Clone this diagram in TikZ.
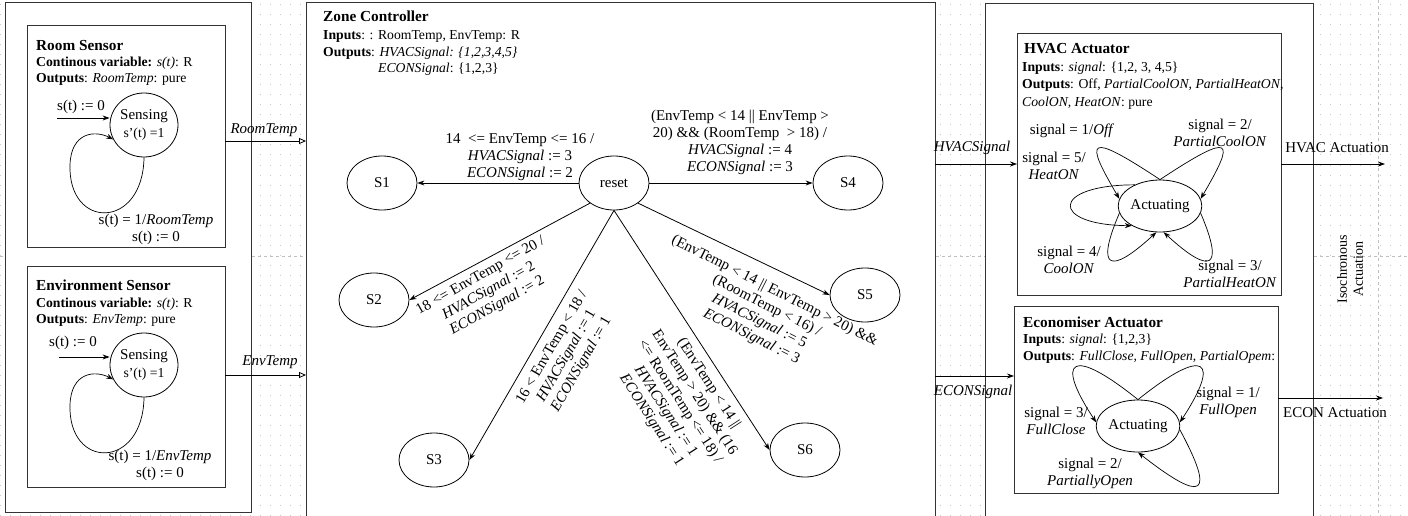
\documentclass[tikz,border=0pt]{standalone}
\usepackage{fontspec}
\setmainfont{Liberation Serif}
\usetikzlibrary{shapes.geometric,arrows.meta}
\newcommand{\fsA}{\fontsize{13.7}{16.5}\selectfont}
\newcommand{\fsB}{\fontsize{15}{17}\selectfont}
\newcommand{\fsT}{\fontsize{15.3}{18}\selectfont\bfseries}
\begin{document}
\begin{tikzpicture}[x=1pt,y=-1pt,
 box/.style={draw=black!80, line width=1pt, fill=white, anchor=north west, inner sep=0, outer sep=0},
 txt/.style={anchor=base west, inner sep=0, font=\fsA},
 ttl/.style={anchor=base west, inner sep=0, font=\fsT},
 st/.style={draw, ellipse, line width=0.8pt, minimum width=70pt, minimum height=54pt, inner sep=0, font=\fsB},
 sens/.style={draw, ellipse, line width=0.8pt, minimum width=68pt, minimum height=64pt, inner sep=0, align=center, font=\fsB},
 act/.style={draw, ellipse, line width=0.8pt, minimum width=66pt, minimum height=52pt, inner sep=0, font=\fsB},
 lbl/.style={inner sep=0, align=center, font=\fsB},
 arr/.style={line width=0.8pt, -{Stealth[length=7pt,width=5pt]}},
 oarr/.style={line width=0.8pt, -{Triangle[open,length=7pt,width=6pt]}},
 gridc/.style={draw=black!22, line width=1pt, dash pattern=on 1pt off 9pt},
 major/.style={draw=black!25, line width=1pt, dash pattern=on 3pt off 3pt}
]
\useasboundingbox (0,0) rectangle (1408,516);
\clip (0,0) rectangle (1408,516);
% background grid
\foreach \yy in {5,15,...,515} \draw[gridc] (0,\yy) -- (1408,\yy);
\draw[major] (0,256) -- (1408,256);
\draw[major] (1378,0) -- (1378,516);

% boxes
\node[box, minimum width=246pt, minimum height=509pt] (lbox) at (5,3) {};
\node[box, minimum width=198pt, minimum height=221pt] (rsbox) at (27,26) {};
\node[box, minimum width=198pt, minimum height=221pt] (esbox) at (27,266) {};
\node[box, minimum width=629pt, minimum height=530pt] (zc) at (306,3) {};
\node[box, minimum width=328pt, minimum height=530pt] (rbox) at (985,4) {};
\node[box, minimum width=264pt, minimum height=261pt] (hvac) at (1017,34) {};
\node[box, minimum width=264pt, minimum height=187pt] (econ) at (1014,306) {};

% ---------- Room Sensor ----------
\node[ttl] (rst) at (36,51) {Room Sensor};
\node[txt] (rsv) at (36,67) {\textbf{Continous variable:} \textit{s(t)}: R};
\node[txt] (rso) at (36,83) {\textbf{Outputs}: \textit{RoomTemp}: pure};
\node[sens] (rss) at (144,125) {Sensing\\[1pt]{\fsA s'(t) =1}};
\coordinate (rsi) at (57,118);
\draw[arr] (rsi) -- (rsi -| rss.west);
\node[lbl] (rsil) at (81,107) {s(t) := 0};
\draw[arr, line width=0.7pt] (rss.south) .. controls (143,230) and (68,230) .. (70,165) .. controls (71,132) and (95,130) .. (rss.205);
\node[lbl] (rsll) at (156,229) {s(t) = 1/\textit{RoomTemp}\\ s(t) := 0};

% ---------- Environment Sensor ----------
\node[ttl] (est) at (36,290) {Environment Sensor};
\node[txt] (esv) at (36,307) {\textbf{Continous variable:} \textit{s(t)}: R};
\node[txt] (eso) at (36,323) {\textbf{Outputs}: \textit{EnvTemp}: pure};
\node[sens] (ess) at (144,365) {Sensing\\[1pt]{\fsA s'(t) =1}};
\coordinate (esi) at (59,357);
\draw[arr] (esi) -- (esi -| ess.west);
\node[lbl] (esil) at (73,343) {s(t) := 0};
\draw[arr, line width=0.7pt] (ess.south) .. controls (143,470) and (68,470) .. (70,405) .. controls (71,372) and (95,370) .. (ess.205);
\node[lbl] (esll) at (160,465) {s(t) = 1/\textit{EnvTemp}\\ s(t) := 0};

% sensor outputs
\coordinate (rto) at (225,141);
\draw[oarr] (rto) -- (rto -| zc.west);
\node[lbl] (rtl) at (264,130) {\textit{RoomTemp}};
\coordinate (eto) at (225,375);
\draw[oarr] (eto) -- (eto -| zc.west);
\node[lbl] (etl) at (270,362) {\textit{EnvTemp}};

% ---------- Zone Controller ----------
\node[ttl] (zct) at (323,22) {Zone Controller};
\node[txt] (zci) at (323,39.5) {\textbf{Inputs}: : RoomTemp, EnvTemp: R};
\node[txt] (zco) at (323,56.5) {\textbf{Outputs}: \textit{HVACSignal: \{1,2,3,4,5\}}};
\node[txt] (zce) at (378,73) {\textit{ECONSignal}: \{1,2,3\}};

\node[st] (reset) at (614,183) {reset};
\node[st] (s1) at (382,183) {S1};
\node[st] (s4) at (848,183) {S4};
\node[st] (s2) at (374,300) {S2};
\node[st] (s3) at (434,460) {S3};
\node[st] (s5) at (865,295) {S5};
\node[st] (s6) at (805,450) {S6};

\draw[arr] (reset) -- (s1);
\draw[arr] (reset) -- (s4);
\draw[arr] (reset.220) -- (s2.east);
\draw[arr] (reset.south) -- (s3.east);
\draw[arr] (reset.320) -- (s5.west);
\draw[arr] (reset.south) -- (s6.west);

\node[lbl] (l1) at (520,157) {14\ \ <= EnvTemp <= 16 /\\ \textit{HVACSignal} := 3\\ \textit{ECONSignal} := 2};
\node[lbl] (l4) at (740,142.5) {(EnvTemp < 14 || EnvTemp >\\ 20) \&\& (RoomTemp\ \ > 18) /\\ \textit{HVACSignal} := 4\\ \textit{ECONSignal} := 3};
\node[lbl, rotate=29.4] (l2) at (489,291) {18 <= EnvTemp <= 20 /\\ \textit{HVACSignal} := 2\\ \textit{ECONSignal} := 2};
\node[lbl, rotate=60] (l3) at (567,356) {16 < EnvTemp < 18 /\\ \textit{HVACSignal} := 1\\ \textit{ECONSignal} := 1};
\node[lbl, rotate=-26.8] (l5) at (763,314) {(EnvTemp < 14 || EnvTemp > 20) \&\&\\ (RoomTemp < 16) /\\ \textit{HVACSignal} := 5\\ \textit{ECONSignal} := 3};
\node[lbl, rotate=-57.1] (l6) at (680,402) {(EnvTemp < 14 ||\\ EnvTemp > 20) \&\& (16\\ <= RoomTemp <= 18) /\\ \textit{HVACSignal} := 1\\ \textit{ECONSignal} := 1};

% ---------- HVAC Actuator ----------
\node[ttl] (hvt) at (1024,54) {HVAC Actuator};
\node[txt] (hvi) at (1022,71.5) {\textbf{Inputs}: \textit{signal}: \{1,2, 3, 4,5\}};
\node[txt] (hvo) at (1022,88.5) {\textbf{Outputs}: Off, \textit{PartialCoolON, PartialHeatON},};
\node[txt] (hvo2) at (1022,106.5) {\textit{CoolON, HeatON}: pure};
\node[act] (ha) at (1160,206) {Actuating};
\draw[arr, line width=0.7pt] (ha.north) .. controls (1085,130) and (1085,140) .. (ha.170);
\draw[arr, line width=0.7pt] (ha.north) .. controls (1235,130) and (1235,140) .. (ha.10);
\draw[arr, line width=0.7pt] (ha.140) .. controls (1050,185) and (1050,225) .. (ha.215);
\draw[arr, line width=0.7pt] (ha.190) .. controls (1095,270) and (1110,275) .. (ha.262);
\draw[arr, line width=0.7pt] (ha.350) .. controls (1225,270) and (1210,275) .. (ha.278);
\node[lbl] (h1) at (1072,131) {signal = 1/\textit{Off}};
\node[lbl] (h2) at (1220,133) {signal = 2/\\ \textit{PartialCoolON}};
\node[lbl] (h5) at (1054,166) {signal = 5/\\ \textit{HeatON}};
\node[lbl] (h4) at (1069,259.5) {signal = 4/\\ \textit{CoolON}};
\node[lbl] (h3) at (1230,273.5) {signal = 3/\\ \textit{PartialHeatON}};

% ---------- Economiser Actuator ----------
\node[ttl] (ect) at (1023,327) {Economiser Actuator};
\node[txt] (eci) at (1023,343.5) {\textbf{Inputs}: \textit{signal}: \{1,2,3\}};
\node[txt] (eco) at (1023,360.5) {\textbf{Outputs}: \textit{FullClose, FullOpen, PartialOpem}:};
\node[act, minimum width=64pt] (ea) at (1138,426) {Actuating};
\draw[arr, line width=0.7pt] (ea.north) .. controls (1070,345) and (1055,360) .. (ea.175);
\draw[arr, line width=0.7pt] (ea.north) .. controls (1206,345) and (1221,360) .. (ea.5);
\draw[arr, line width=0.7pt] (ea.355) .. controls (1215,495) and (1205,505) .. (ea.south);
\node[lbl] (e3) at (1056,420.5) {signal = 3/\\ \textit{FullClose}};
\node[lbl] (e1) at (1228,402.5) {signal = 1/\\ \textit{FullOpen}};
\node[lbl] (e2) at (1090,473.5) {signal = 2/\\ \textit{PartiallyOpen}};

% ---------- connectors on the right ----------
\coordinate (hs) at (935,164);
\draw[arr] (hs -| zc.east) -- (hs -| hvac.west);
\node[lbl] (hsl) at (972,148) {\textit{HVACSignal}};
\coordinate (ha2) at (1385,164);
\draw[arr] (ha2 -| hvac.east) -- (ha2);
\node[lbl] (hal) at (1337,148) {HVAC Actuation};
\coordinate (es) at (935,376);
\draw[arr] (es -| zc.east) -- (es -| econ.west);
\node[lbl] (esl) at (973,392) {\textit{ECONSignal}};
\coordinate (ea2) at (1383,398);
\draw[arr] (ea2 -| econ.east) -- (ea2);
\node[lbl] (eal) at (1335,413) {ECON Actuation};

\node[lbl, rotate=90, font=\fontsize{14}{16}\selectfont] (iso) at (1350,269) {Isochronous\\ Actuation};
\end{tikzpicture}
\end{document}
